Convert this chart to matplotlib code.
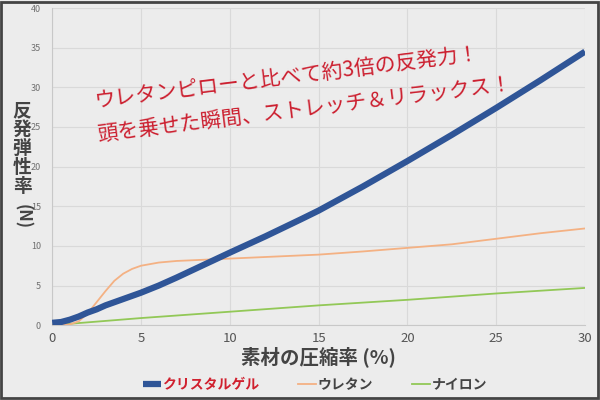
import matplotlib.pyplot as plt
from matplotlib.patches import Rectangle

plt.rcParams['font.family'] = ['Noto Sans CJK JP', 'DejaVu Sans']

# data
gel_x = [0, 0.5, 1, 1.5, 2, 2.5, 3, 4, 5, 6, 7, 8, 9, 10, 12, 14, 15, 17.5, 20, 22.5, 25, 27.5, 30]
gel_y = [0.3, 0.4, 0.7, 1.1, 1.6, 2.0, 2.5, 3.3, 4.1, 5.0, 6.0, 7.05, 8.1, 9.15, 11.2, 13.35, 14.45, 17.5, 20.7, 24.0, 27.4, 30.9, 34.5]

ure_x = [0, 1, 1.5, 2, 2.5, 3, 3.5, 4, 4.5, 5, 6, 7, 8, 10, 12, 15, 17.5, 20, 22.5, 25, 27.5, 30]
ure_y = [0, 0.1, 0.5, 1.5, 2.9, 4.3, 5.6, 6.5, 7.1, 7.5, 7.9, 8.1, 8.2, 8.4, 8.6, 8.9, 9.3, 9.75, 10.2, 10.9, 11.6, 12.2]

nyl_x = [0, 5, 10, 15, 20, 25, 30]
nyl_y = [0, 0.9, 1.7, 2.5, 3.2, 4.0, 4.7]

names = ['クリスタルゲル', 'ウレタン', 'ナイロン']
colors = ['#2f5597', '#f4b183', '#92c857']
xticks = [0, 5, 10, 15, 20, 25, 30]
yticks = [0, 5, 10, 15, 20, 25, 30, 35, 40]

bg = '#ececec'
fig = plt.figure(figsize=(6, 4), dpi=100, facecolor=bg)
ax = fig.add_axes([0.087, 0.187, 0.888, 0.793], facecolor=bg)

l_nyl, = ax.plot(nyl_x, nyl_y, color=colors[2], lw=1.3, zorder=3)
l_ure, = ax.plot(ure_x, ure_y, color=colors[1], lw=1.3, zorder=4)
l_gel, = ax.plot(gel_x, gel_y, color=colors[0], lw=4.5, zorder=5, solid_capstyle='butt')

ax.set_xlim(0, 30)
ax.set_ylim(0, 40)
ax.set_xticks(xticks)
ax.set_yticks(yticks)
ax.grid(color='#d9d9d9', lw=0.8)
ax.set_axisbelow(True)
for s in ['top', 'right']:
    ax.spines[s].set_visible(False)
for s in ['left', 'bottom']:
    ax.spines[s].set_color('#c8c8c8')
    ax.spines[s].set_linewidth(0.8)
ax.tick_params(length=0)
ax.tick_params(axis='y', labelsize=6.5, labelcolor='#707070', pad=8)
ax.tick_params(axis='x', labelsize=9.5, labelcolor='#555555', pad=5)

ax.set_xlabel('素材の圧縮率 (%)', fontsize=14, fontweight='bold', color='#444444', labelpad=1)

# stacked vertical y label
fig.text(0.037, 0.51, '反\n発\n弾\n性\n率', fontsize=13.5, fontweight='bold', color='#444444',
         ha='center', va='bottom', linespacing=1.0)
fig.text(0.037, 0.49, '(N)', fontsize=12, fontweight='bold', color='#444444',
         ha='center', va='top', rotation=-90)

# red catch copy
red = '#cc1f2f'
fig.text(0.158, 0.732, 'ウレタンピローと比べて約3倍の反発力！', fontsize=15, color=red,
         rotation=7, rotation_mode='anchor', ha='left', va='baseline')
fig.text(0.163, 0.648, '頭を乗せた瞬間、ストレッチ＆リラックス！', fontsize=15, color=red,
         rotation=7, rotation_mode='anchor', ha='left', va='baseline')

leg = ax.legend([l_gel, l_ure, l_nyl], names,
                loc='upper center', bbox_to_anchor=(0.493, -0.128), ncol=3, frameon=False,
                fontsize=10, handlelength=1.3, handletextpad=0.1, columnspacing=2.8)
for t, c in zip(leg.get_texts(), ['#d0202e', '#444444', '#444444']):
    t.set_color(c)
    t.set_fontweight('bold')

fig.patches.append(Rectangle((0.002, 0.004), 0.994, 0.992, transform=fig.transFigure,
                             fill=False, edgecolor='#444444', lw=2))

fig.savefig('out.png', dpi=100, facecolor=bg)
